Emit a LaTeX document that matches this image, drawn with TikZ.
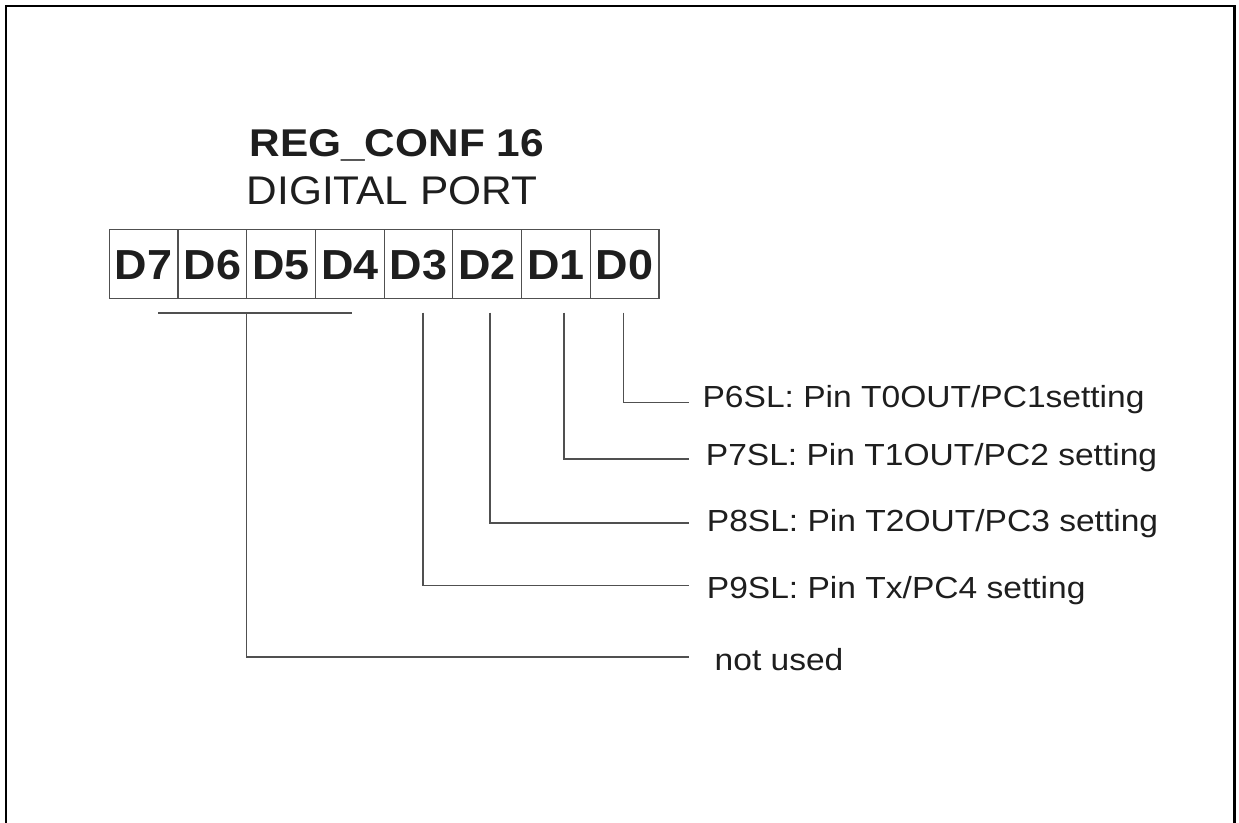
\documentclass[tikz,border=0pt]{standalone}
\usepackage{fontspec}
\setmainfont{Liberation Sans}
\definecolor{linec}{HTML}{505050}
\definecolor{textc}{HTML}{1E1E1E}
\begin{document}
\begin{tikzpicture}[x=1pt,y=-1pt,
  frame/.style={line width=2.3pt, black},
  cell/.style={draw=linec, line width=1.2pt, minimum width=68.7pt, minimum height=68.7pt,
    inner sep=0pt, text=textc, font=\bfseries\fontsize{42}{44}\selectfont,
    text height=30.1pt, text depth=0pt},
  conn/.style={draw=linec, line width=1.3pt},
  lbl/.style={anchor=base west, inner sep=0pt, text=textc, font=\fontsize{30.5}{32}\selectfont}
]
\useasboundingbox (0,0) rectangle (1239,822);
\draw[frame] (6,830) -- (6,6) -- (1234.5,6) -- (1234.5,830);

\node[anchor=base, inner sep=0pt, text=textc, font=\bfseries\fontsize{38.7}{40}\selectfont]
  (title) at (396.7,156) {\scalebox{1.095}[1]{REG\_CONF 16}};
\node[anchor=base, inner sep=0pt, text=textc, font=\fontsize{40}{42}\selectfont]
  (sub) at (392,204.3) {\scalebox{1.06}[1]{DIGITAL PORT}};

\foreach \i [count=\k from 0] in {7,6,5,4,3,2,1,0}
  \node[cell] (d\i) at ({143.65+68.7*\k},264) {\scalebox{1.07}[1]{D\i}};

% connector tops
\coordinate (t3) at (423,312.7);
\coordinate (t2) at (490,312.7);
\coordinate (t1) at (564,312.7);
\coordinate (t0) at (623.3,312.7);
\coordinate (b1) at (158.3,312.7);
\coordinate (b2) at (351.7,312.7);
\coordinate (tn) at (246.7,312.7);
% connector ends
\coordinate (e0) at (689,402.3);
\coordinate (e1) at (689,459);
\coordinate (e2) at (689,523);
\coordinate (e3) at (689,585.7);
\coordinate (en) at (689,657);

\node[lbl] (l0) at (702.4,407) {\scalebox{1.1}[1]{P6SL: Pin T0OUT/PC1setting}};
\node[lbl] (l1) at (705.7,465) {\scalebox{1.1}[1]{P7SL: Pin T1OUT/PC2 setting}};
\node[lbl] (l2) at (706.7,531) {\scalebox{1.1}[1]{P8SL: Pin T2OUT/PC3 setting}};
\node[lbl] (l3) at (706.7,598) {\scalebox{1.1}[1]{P9SL: Pin Tx/PC4 setting}};
\node[lbl] (ln) at (714.5,670) {\scalebox{1.1}[1]{not used}};

\draw[conn] (t0) |- (e0);
\draw[conn] (t1) |- (e1);
\draw[conn] (t2) |- (e2);
\draw[conn] (t3) |- (e3);
\draw[conn, line width=1.6pt] (b1) -- (b2);
\draw[conn] (tn) |- (en);
\end{tikzpicture}
\end{document}
